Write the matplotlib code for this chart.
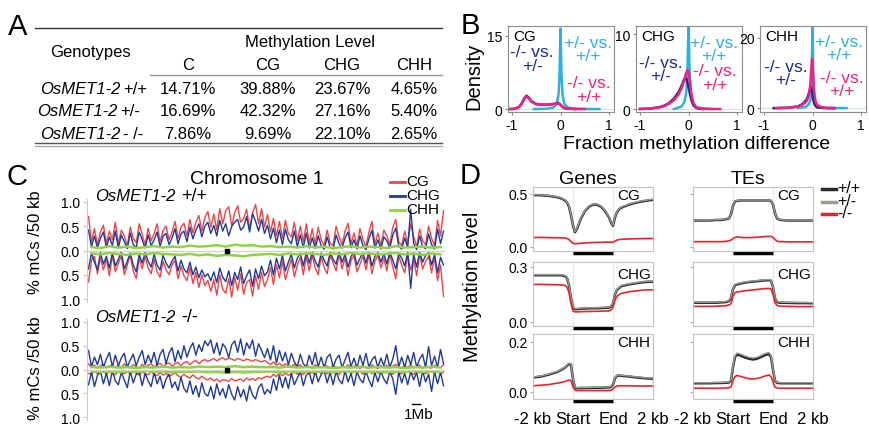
import numpy as np
import matplotlib
matplotlib.use("Agg")
import matplotlib.pyplot as plt

plt.rcParams['font.family'] = ['Liberation Sans', 'DejaVu Sans']
plt.rcParams['axes.unicode_minus'] = False

W, H = 869, 427

# ---------------- A: methylation level table ----------------
contexts = ["C", "CG", "CHG", "CHH"]
row_suffix = ["+/+", "+/-", "- /-"]
lvl_wt = [14.71, 39.88, 23.67, 4.65]
lvl_het = [16.69, 42.32, 27.16, 5.40]
lvl_mut = [7.86, 9.69, 22.10, 2.65]

# ---------------- B: density of fraction methylation difference ----------------
# magenta: -/- vs +/+, navy: -/- vs +/-, cyan: +/- vs +/+
cg_mw_x = [-1.05, -0.95, -0.85, -0.8, -0.75, -0.7, -0.65, -0.6, -0.5, -0.4, -0.3, -0.2, -0.1, -0.05, 0.0, 0.05, 0.1, 0.2, 0.3, 0.5]
cg_mw_y = [0, 0.05, 0.4, 1.0, 2.0, 2.6, 2.2, 1.5, 1.0, 0.9, 0.9, 0.95, 1.1, 1.3, 0.9, 0.4, 0.15, 0.05, 0.02, 0.02]
cg_mh_x = [-1.05, -0.95, -0.85, -0.8, -0.75, -0.7, -0.65, -0.6, -0.5, -0.4, -0.3, -0.2, -0.1, -0.05, 0.0, 0.05, 0.1, 0.2, 0.3]
cg_mh_y = [0, 0.05, 0.45, 1.1, 2.1, 2.75, 2.3, 1.6, 1.05, 0.9, 0.9, 0.95, 1.1, 1.25, 0.85, 0.35, 0.12, 0.04, 0.02]
cg_hw_x = [-0.55, -0.3, -0.15, -0.08, -0.04, -0.02, 0.0, 0.02, 0.04, 0.08, 0.15, 0.3, 0.55, 0.8]
cg_hw_y = [0, 0.05, 0.3, 1.0, 3.0, 7.0, 16.5, 7.0, 3.0, 1.0, 0.3, 0.05, 0, 0]

chg_mw_x = [-1.0, -0.8, -0.6, -0.5, -0.4, -0.3, -0.2, -0.15, -0.1, -0.05, -0.02, 0.0, 0.03, 0.06, 0.1, 0.15, 0.2, 0.3, 0.5, 0.65]
chg_mw_y = [0, 0.05, 0.2, 0.4, 0.7, 1.2, 2.0, 2.7, 3.6, 4.8, 5.2, 5.0, 3.5, 2.0, 0.8, 0.3, 0.1, 0.03, 0, 0]
chg_mh_x = [-1.0, -0.8, -0.6, -0.5, -0.4, -0.3, -0.2, -0.15, -0.1, -0.07, -0.04, 0.0, 0.03, 0.06, 0.1, 0.15, 0.2, 0.3]
chg_mh_y = [0, 0.05, 0.25, 0.45, 0.8, 1.4, 2.3, 3.0, 3.8, 4.2, 4.0, 3.0, 2.0, 1.2, 0.5, 0.2, 0.05, 0]
chg_hw_x = [-0.3, -0.15, -0.08, -0.04, -0.02, 0.0, 0.02, 0.04, 0.08, 0.15, 0.3, 0.5]
chg_hw_y = [0, 0.3, 1.0, 2.5, 5.5, 11.5, 5.5, 2.5, 1.0, 0.3, 0.05, 0]

chh_mw_x = [-0.75, -0.5, -0.3, -0.2, -0.12, -0.08, -0.05, -0.03, -0.01, 0.01, 0.03, 0.06, 0.1, 0.2, 0.3, 0.45]
chh_mw_y = [0, 0.1, 0.4, 1.0, 2.0, 3.5, 6.0, 10.0, 14.0, 10.0, 5.0, 2.0, 0.8, 0.2, 0.05, 0]
chh_mh_x = [-0.8, -0.5, -0.3, -0.2, -0.12, -0.08, -0.05, -0.03, -0.01, 0.01, 0.03, 0.06, 0.1, 0.2, 0.3, 0.45]
chh_mh_y = [0, 0.1, 0.5, 1.2, 2.5, 4.0, 5.5, 6.0, 5.0, 3.0, 1.5, 0.6, 0.2, 0.05, 0, 0]
chh_hw_x = [-0.3, -0.15, -0.08, -0.04, -0.02, 0.0, 0.02, 0.04, 0.08, 0.15, 0.3, 0.7]
chh_hw_y = [0, 0.3, 1.0, 2.5, 6.0, 24, 6.0, 2.5, 1.0, 0.3, 0.05, 0]

# ---------------- C: methylation along chromosome 1 (hundredths, 120 bins) ----------------
chrom_len = 43.0      # Mb
centromere = 16.8     # Mb
cg_wt_top = [70, 18, 45, 12, 38, 52, 15, 40, 22, 58, 14, 42, 30, 10, 48, 25, 16, 55, 33, 12,
             46, 20, 35, 55, 18, 42, 50, 22, 38, 60, 25, 48, 56, 30, 64, 36, 58, 72, 40, 68,
             80, 48, 75, 42, 86, 55, 82, 90, 50, 78, 92, 58, 66, 85, 45, 78, 95, 55, 86, 48,
             74, 38, 66, 30, 60, 25, 62, 35, 28, 58, 20, 50, 18, 55, 15, 45, 12, 48, 22, 10,
             42, 15, 10, 50, 28, 12, 40, 56, 14, 36, 10, 45, 22, 8, 38, 60, 12, 36, 10, 42,
             30, 12, 48, 64, 18, 10, 40, 15, 55, 28, 8, 44, 20, 12, 50, 25, 10, 62, 30, 82]
chg_wt_top = [42, 8, 30, 5, 25, 38, 6, 28, 10, 40, 5, 32, 18, 4, 36, 12, 6, 38, 22, 5,
              32, 10, 22, 38, 8, 30, 35, 12, 26, 45, 14, 34, 40, 18, 48, 24, 42, 55, 28, 50,
              58, 35, 52, 30, 62, 40, 55, 30, 50, 58, 64, 42, 48, 70, 38, 76, 60, 40, 64, 35,
              52, 24, 46, 16, 42, 12, 44, 22, 14, 40, 8, 32, 6, 36, 5, 26, 4, 30, 10, 3,
              28, 6, 3, 32, 14, 5, 26, 38, 6, 22, 3, 30, 10, 2, 24, 42, 5, 22, 3, 28,
              20, 5, 32, 46, 8, 3, 26, 6, 85, 14, 2, 30, 8, 4, 34, 12, 3, 44, 14, 40]
cg_wt_bot = [65, 20, 12, 48, 15, 40, 18, 52, 10, 44, 26, 12, 50, 30, 10, 42, 58, 16, 38, 12,
             36, 48, 18, 44, 55, 22, 40, 50, 30, 20, 58, 32, 52, 62, 35, 68, 45, 76, 50, 72,
             62, 84, 60, 92, 50, 80, 88, 58, 96, 55, 82, 48, 90, 66, 60, 94, 52, 80, 45, 74,
             60, 35, 70, 30, 56, 22, 60, 38, 18, 54, 30, 14, 50, 12, 42, 10, 36, 50, 12, 35,
             48, 10, 25, 42, 8, 38, 15, 52, 20, 10, 44, 28, 12, 40, 8, 48, 22, 10, 36, 15,
             42, 8, 34, 58, 12, 30, 46, 10, 40, 18, 52, 8, 38, 22, 12, 46, 15, 62, 30, 95]
chg_wt_bot = [38, 5, 24, 40, 4, 28, 12, 36, 5, 32, 18, 3, 38, 22, 5, 30, 44, 8, 26, 4,
              22, 34, 8, 30, 40, 10, 26, 36, 22, 12, 42, 20, 38, 46, 24, 50, 34, 56, 40, 54,
              48, 62, 44, 66, 36, 55, 64, 42, 72, 45, 60, 34, 68, 52, 40, 74, 38, 58, 32, 52,
              44, 20, 50, 16, 38, 10, 42, 24, 8, 36, 16, 5, 32, 4, 26, 3, 22, 34, 5, 20,
              32, 4, 18, 28, 3, 24, 8, 34, 12, 4, 30, 16, 5, 26, 2, 32, 12, 4, 24, 6,
              28, 3, 20, 38, 6, 16, 32, 4, 78, 8, 34, 3, 24, 10, 4, 30, 8, 46, 14, 30]
cg_mu_top = [12, 4, 9, 3, 8, 11, 3, 7, 10, 4, 9, 3, 12, 5, 4, 10, 6, 3, 11, 5,
             9, 12, 5, 10, 13, 6, 11, 14, 7, 12, 15, 8, 14, 17, 10, 16, 19, 12, 18, 21,
             17, 20, 23, 18, 22, 25, 20, 24, 22, 19, 23, 21, 18, 22, 20, 17, 21, 18, 16, 19,
             15, 10, 16, 9, 13, 7, 12, 8, 6, 11, 5, 10, 4, 9, 6, 3, 10, 5, 4, 9,
             7, 3, 9, 4, 3, 8, 4, 10, 3, 7, 9, 2, 8, 4, 3, 10, 5, 2, 8, 4,
             9, 3, 7, 11, 4, 2, 8, 4, 10, 3, 7, 9, 2, 8, 4, 3, 9, 5, 4, 10]
chg_mu_top = [40, 6, 26, 10, 32, 4, 22, 36, 6, 30, 8, 24, 34, 5, 20, 32, 8, 26, 40, 10,
              30, 14, 36, 8, 32, 42, 12, 34, 46, 16, 40, 22, 50, 26, 44, 56, 30, 52, 38, 60,
              50, 62, 34, 56, 30, 54, 45, 25, 52, 60, 36, 64, 30, 56, 44, 62, 28, 54, 40, 25,
              44, 20, 50, 14, 40, 18, 36, 10, 34, 16, 6, 32, 12, 5, 30, 10, 36, 6, 26, 4,
              26, 32, 5, 22, 30, 4, 20, 36, 6, 24, 3, 30, 8, 34, 5, 20, 28, 4, 24, 8,
              32, 5, 22, 50, 6, 26, 4, 30, 10, 36, 5, 22, 32, 4, 48, 8, 28, 5, 42, 12]
cg_mu_bot = [8, 10, 3, 9, 7, 3, 10, 4, 8, 11, 3, 7, 9, 4, 10, 3, 8, 12, 4, 9,
             11, 5, 10, 13, 6, 12, 8, 14, 11, 7, 13, 16, 10, 15, 18, 11, 17, 20, 14, 19,
             22, 18, 24, 20, 26, 21, 23, 25, 19, 24, 22, 20, 25, 18, 22, 19, 23, 17, 20, 16,
             14, 17, 10, 15, 8, 13, 7, 12, 9, 5, 10, 4, 11, 3, 9, 6, 10, 3, 8, 5,
             9, 4, 3, 8, 10, 3, 7, 2, 9, 4, 8, 3, 10, 5, 3, 9, 2, 8, 4, 7,
             3, 8, 10, 3, 7, 9, 4, 2, 8, 10, 4, 7, 3, 9, 5, 3, 8, 3, 10, 5]
chg_mu_bot = [32, 5, 36, 12, 4, 30, 8, 34, 3, 24, 32, 6, 22, 38, 4, 28, 10, 5, 34, 8,
              24, 36, 6, 30, 14, 40, 20, 10, 38, 26, 44, 16, 40, 48, 24, 52, 34, 58, 28, 50,
              56, 36, 62, 30, 54, 40, 60, 32, 52, 64, 36, 58, 42, 66, 34, 54, 62, 38, 30, 52,
              42, 50, 20, 44, 12, 38, 16, 40, 8, 32, 18, 5, 34, 12, 6, 30, 4, 26, 10, 3,
              28, 6, 32, 4, 22, 30, 3, 26, 8, 34, 5, 20, 28, 3, 22, 36, 6, 26, 4, 20,
              30, 4, 20, 52, 5, 28, 8, 32, 4, 22, 6, 36, 3, 26, 10, 46, 5, 30, 6, 34]
chh_wt_top = [7, 5, 9, 6, 8, 5, 7, 9, 6, 8, 7, 10, 8, 9, 11, 8, 12, 10, 11, 8,
              9, 7, 8, 6, 9, 6, 8, 5, 7, 9, 6, 8, 7, 5, 9, 6, 7, 8, 6, 7]
chh_wt_bot = [6, 8, 5, 7, 9, 6, 8, 5, 7, 8, 9, 7, 10, 8, 11, 9, 10, 12, 9, 8,
              7, 9, 6, 8, 6, 7, 9, 6, 8, 5, 7, 6, 8, 7, 5, 8, 6, 9, 6, 8]
chh_mu_top = [5, 4, 6, 4, 5, 3, 5, 4, 6, 4, 5, 4, 6, 5, 6, 5, 7, 5, 6, 5,
              5, 4, 6, 4, 5, 4, 5, 3, 5, 4, 6, 4, 5, 4, 5, 3, 5, 4, 6, 4]
chh_mu_bot = [4, 5, 4, 6, 4, 5, 3, 5, 4, 6, 5, 5, 4, 6, 5, 7, 5, 6, 5, 5,
              4, 6, 4, 5, 4, 5, 4, 6, 3, 5, 4, 5, 4, 6, 4, 5, 3, 5, 4, 5]
scale_bar_start = 39.0  # Mb

# ---------------- D: metaplots (x: 0=-2kb, 1=start, 2=end, 3=+2kb) ----------------
pos = [0, .2, .4, .6, .7, .8, .85, .9, .95, 1.0, 1.05, 1.1, 1.2, 1.3, 1.4, 1.5, 1.6, 1.7, 1.8, 1.9,
       1.95, 2.0, 2.05, 2.1, 2.15, 2.2, 2.4, 2.6, 2.8, 3.0]
body_start, body_end = 1, 2
gene_cg_wt = [.49, .488, .482, .47, .46, .44, .42, .38, .30, .20, .14, .17, .27, .34, .38, .40, .40, .38, .34, .28,
              .23, .20, .28, .33, .355, .37, .40, .42, .435, .445]
gene_cg_het = [.495, .49, .485, .474, .465, .445, .425, .385, .305, .205, .145, .175, .275, .345, .385, .405, .405, .385, .345, .285,
               .235, .205, .285, .335, .36, .375, .405, .425, .44, .45]
gene_cg_mu = [.09, .09, .088, .087, .086, .085, .08, .07, .05, .035, .03, .032, .035, .038, .04, .042, .043, .044, .045, .046,
              .045, .044, .055, .065, .07, .072, .076, .078, .08, .08]
te_cg_wt = [.25, .25, .25, .255, .255, .26, .265, .27, .31, .39, .43, .435, .44, .44, .44, .44, .44, .44, .44, .44,
            .435, .40, .32, .27, .26, .255, .25, .25, .25, .25]
te_cg_het = [.253, .253, .253, .258, .258, .263, .268, .273, .313, .393, .433, .438, .443, .443, .443, .443, .443, .443, .443, .443,
             .438, .403, .323, .273, .263, .258, .253, .253, .253, .253]
te_cg_mu = [.05, .05, .05, .05, .05, .052, .055, .058, .065, .08, .09, .095, .09, .088, .088, .09, .092, .095, .098, .10,
            .10, .09, .07, .055, .05, .05, .048, .048, .048, .048]
gene_chg_wt = [.255, .255, .255, .255, .255, .25, .24, .20, .13, .08, .07, .07, .072, .073, .074, .075, .075, .076, .077, .078,
               .085, .10, .15, .175, .185, .195, .205, .212, .218, .22]
gene_chg_het = [.258, .258, .258, .258, .258, .253, .243, .203, .133, .083, .073, .073, .075, .076, .077, .078, .078, .079, .08, .081,
                .088, .103, .153, .178, .188, .198, .208, .215, .221, .223]
gene_chg_mu = [.205, .205, .204, .203, .202, .20, .19, .16, .10, .06, .055, .055, .056, .057, .057, .058, .058, .059, .06, .06,
               .065, .08, .12, .14, .148, .155, .165, .17, .175, .175]
te_chg_wt = [.105, .105, .105, .105, .107, .108, .11, .115, .13, .18, .20, .205, .21, .215, .218, .22, .222, .225, .227, .228,
             .225, .19, .13, .11, .105, .105, .104, .103, .103, .102]
te_chg_het = [.108, .108, .108, .108, .11, .111, .113, .118, .133, .183, .203, .208, .213, .218, .221, .223, .225, .228, .23, .231,
              .228, .193, .133, .113, .108, .108, .107, .106, .106, .105]
te_chg_mu = [.085, .085, .085, .086, .087, .088, .09, .093, .10, .14, .16, .163, .167, .17, .172, .175, .177, .18, .182, .183,
             .18, .15, .105, .09, .087, .086, .085, .084, .084, .084]
gene_chh_wt = [.058, .062, .07, .08, .088, .098, .105, .112, .11, .05, .018, .015, .016, .016, .016, .017, .017, .017, .018, .018,
               .02, .03, .055, .065, .066, .065, .062, .058, .055, .053]
gene_chh_het = [.06, .064, .072, .082, .09, .10, .107, .115, .113, .052, .02, .017, .018, .018, .018, .019, .019, .019, .02, .02,
                .022, .032, .057, .067, .068, .067, .064, .06, .057, .055]
gene_chh_mu = [.025, .027, .03, .035, .038, .042, .045, .048, .045, .02, .007, .006, .006, .006, .006, .006, .006, .006, .006, .006,
               .007, .012, .02, .024, .025, .025, .025, .024, .024, .024]
te_chh_wt = [.035, .035, .035, .036, .036, .037, .037, .038, .045, .10, .14, .15, .145, .138, .133, .13, .133, .14, .148, .152,
             .14, .09, .045, .037, .036, .035, .035, .035, .035, .035]
te_chh_het = [.037, .037, .037, .038, .038, .039, .039, .04, .047, .104, .145, .156, .151, .144, .139, .136, .139, .146, .154, .158,
              .146, .094, .047, .039, .038, .037, .037, .037, .037, .037]
te_chh_mu = [.015, .015, .015, .015, .015, .016, .016, .017, .02, .045, .062, .066, .062, .057, .053, .052, .054, .058, .064, .068,
             .062, .04, .02, .016, .015, .015, .015, .015, .015, .015]
xtick_labels = ["-2 kb", "Start", "End", "2 kb"]

# colours
CYAN, NAVY, MAGENTA = "#2eaee2", "#1c2a8c", "#f2207f"
C_RED, C_BLUE, C_GREEN = "#e8474a", "#1f3a9a", "#8fd43c"
D_BLACK, D_GRAY, D_RED = "#2b2b2b", "#9a9e90", "#e5252b"

fig = plt.figure(figsize=(W / 100, H / 100), dpi=100)


def rect(l, t, r, b):
    return [l / W, 1 - b / H, (r - l) / W, (b - t) / H]


# overlay axes in pixel coordinates for free text and rules
ov = fig.add_axes([0, 0, 1, 1], zorder=10)
ov.set_xlim(0, W)
ov.set_ylim(H, 0)
ov.axis('off')

# ---- A
ov.text(8, 27, "A", fontsize=21, va='center')
ov.plot([35, 442], [29, 29], color='#333333', lw=1)
ov.text(310, 43, "Methylation Level", fontsize=12, ha='center', va='center')
ov.text(90, 53, "Genotypes", fontsize=12, ha='center', va='center')
col_x = [188, 268, 342, 414]
for cx, c in zip(col_x, contexts):
    ov.text(cx, 66, c, fontsize=12, ha='center', va='center')
ov.plot([150, 442], [76, 76], color='#999999', lw=1)
row_y = [90, 112, 135]
row_lx = [40, 37, 40]
for ry, lx, suf, vals in zip(row_y, row_lx, row_suffix, [lvl_wt, lvl_het, lvl_mut]):
    t = ov.text(lx, ry, "OsMET1-2", style='italic', fontsize=12, va='center')
    ov.annotate(suf, xy=(1, 0.5), xycoords=t, xytext=(2, 0), textcoords='offset points',
                va='center', fontsize=12)
    for cx, v in zip(col_x, vals):
        ov.text(cx, ry, f"{v:.2f}%", ha='center', va='center', fontsize=12)
ov.plot([35, 442], [144, 144], color='#555555', lw=1)
ov.plot([35, 442], [146.5, 146.5], color='#aaaaaa', lw=1)

# ---- B
ov.text(461, 26, "B", fontsize=21, va='center')
ov.text(474, 76, "Density", fontsize=14.5, rotation=90, ha='center', va='center')
ov.text(697, 145, "Fraction methylation difference", fontsize=14, ha='center', va='center')
b_panels = [
    ("CG", rect(508, 27, 614, 113), (-0.6, 17), 15,
     (cg_hw_x, cg_hw_y), (cg_mw_x, cg_mw_y), (cg_mh_x, cg_mh_y),
     [(0.56, 12.35), (-0.58, 10.35), (0.58, 4.0)]),
    ("CHG", rect(636, 27, 742, 113), (-0.4, 11.1), 10,
     (chg_hw_x, chg_hw_y), (chg_mw_x, chg_mw_y), (chg_mh_x, chg_mh_y),
     [(0.53, 8.0), (-0.57, 5.3), (0.55, 4.2)]),
    ("CHH", rect(760, 27, 866, 113), (-1.1, 23.4), 20,
     (chh_hw_x, chh_hw_y), (chh_mw_x, chh_mw_y), (chh_mh_x, chh_mh_y),
     [(0.55, 17.2), (-0.55, 10.0), (0.6, 6.85)]),
]
for name, r, ylim, ytop, hw, mw, mh, lab in b_panels:
    ax = fig.add_axes(r)
    ax.axhline(0, color='#dddddd', lw=0.8, zorder=0)
    ax.plot(hw[0], hw[1], color=CYAN, lw=1.8)
    ax.plot(mh[0], mh[1], color=NAVY, lw=1.8)
    ax.plot(mw[0], mw[1], color=MAGENTA, lw=1.8)
    ax.set_xlim(-1.08, 1.1)
    ax.set_ylim(*ylim)
    ax.set_xticks([-1, 0, 1])
    ax.set_yticks([0, ytop])
    ax.tick_params(labelsize=10, length=2.5, color='#888888', pad=1.5)
    for s in ax.spines.values():
        s.set_color('#8c8c8c')
    ax.text(0.05, 0.88, name, transform=ax.transAxes, fontsize=11, va='center')
    kw = dict(ha='center', va='center', fontsize=12.5, linespacing=0.85)
    ax.text(*lab[0], "+/- vs.\n+/+", color=CYAN, **kw)
    ax.text(*lab[1], "-/- vs.\n+/-", color=NAVY, **kw)
    ax.text(*lab[2], "-/- vs.\n+/+", color=MAGENTA, **kw)

# ---- C
ov.text(7, 177, "C", fontsize=21, va='center')
ov.text(257, 180, "Chromosome 1", fontsize=14, ha='center', va='center')
for ly, lab, col in zip([182, 196, 210], ["CG", "CHG", "CHH"], [C_RED, C_BLUE, C_GREEN]):
    ov.plot([390, 405], [ly + 1, ly + 1], color=col, lw=2)
    ov.text(406, ly, lab, fontsize=11, va='center')
nb = len(cg_wt_top)
xb = (np.arange(nb) + 0.5) * chrom_len / nb
nh = len(chh_wt_top)
xh = (np.arange(nh) + 0.5) * chrom_len / nh
c_panels = [
    (rect(87, 200, 445, 303), "+/+", cg_wt_top, chg_wt_top, cg_wt_bot, chg_wt_bot, chh_wt_top, chh_wt_bot, 242),
    (rect(87, 320, 445, 421), "-/-", cg_mu_top, chg_mu_top, cg_mu_bot, chg_mu_bot, chh_mu_top, chh_mu_bot, 368),
]
for i, (r, suf, cgt, chgt, cgb, chgb, chht, chhb, ylab_y) in enumerate(c_panels):
    ax = fig.add_axes(r)
    ax.plot(xb, np.array(cgt) / 100, color=C_RED, lw=1.0)
    ax.plot(xb, -np.array(cgb) / 100, color=C_RED, lw=1.0)
    ax.plot(xb, np.array(chgt) / 100, color=C_BLUE, lw=1.0)
    ax.plot(xb, -np.array(chgb) / 100, color=C_BLUE, lw=1.0)
    ax.plot(xh, np.array(chht) / 100, color=C_GREEN, lw=1.8)
    ax.plot(xh, -np.array(chhb) / 100, color=C_GREEN, lw=1.8)
    ax.axhline(0, color='#d0d0d0', lw=0.9)
    ax.plot([centromere], [0], 's', color='black', ms=3.5)
    ax.set_xlim(0, chrom_len)
    ax.set_ylim(-1.06, 1.06)
    ax.set_yticks([-1, -0.5, 0, 0.5, 1])
    ax.set_yticklabels(["1.0", "0.5", "0.0", "0.5", "1.0"])
    ax.set_xticks([])
    for s in ['top', 'right', 'bottom']:
        ax.spines[s].set_visible(False)
    ax.spines['left'].set_color('#cccccc')
    ax.tick_params(axis='y', labelsize=10, length=3, color='#cccccc', pad=2)
    ax.patch.set_alpha(0)
    ov.text(36, ylab_y, "% mCs /50 kb", fontsize=12, rotation=90, ha='center', va='center')
    ty = 197 if i == 0 else 318
    t = ov.text(95, ty, "OsMET1-2", style='italic', fontsize=12, va='center')
    ov.annotate(suf, xy=(1, 0.5), xycoords=t, xytext=(4, 0), textcoords='offset points',
                va='center', fontsize=13)
    if i == 1:
        ax.plot([scale_bar_start, scale_bar_start + 1], [-0.72, -0.72], color='black', lw=1)
        ax.text(scale_bar_start + 0.8, -0.93, "1Mb", fontsize=11, ha='center', va='center')

# ---- D
ov.text(460, 176, "D", fontsize=21, va='center')
ov.text(588, 180, "Genes", fontsize=14, ha='center', va='center')
ov.text(748, 180, "TEs", fontsize=14, ha='center', va='center')
ov.text(473, 287, "Methylation level", fontsize=14.5, rotation=90, ha='center', va='center')
for ly, lab, col in zip([189, 201.5, 214], ["+/+", "+/-", "-/-"], [D_BLACK, D_GRAY, D_RED]):
    ov.plot([822, 836], [ly + 1, ly + 1], color=col, lw=2.5)
    ov.text(837, ly, lab, fontsize=11.5, va='center')

rows = [((188, 252), (-0.038, 0.566), 0.5, "CG", 0.87,
         [gene_cg_wt, gene_cg_het, gene_cg_mu], [te_cg_wt, te_cg_het, te_cg_mu]),
        ((263, 327), (-0.022, 0.327), 0.3, "CHG", 0.81,
         [gene_chg_wt, gene_chg_het, gene_chg_mu], [te_chg_wt, te_chg_het, te_chg_mu]),
        ((335, 400), (-0.028, 0.232), 0.2, "CHH", 0.87,
         [gene_chh_wt, gene_chh_het, gene_chh_mu], [te_chh_wt, te_chh_het, te_chh_mu])]
cols = [(533, 653), (693, 813)]
for ri, ((t, b), ylim, ytop, ctx, ty, gene_s, te_s) in enumerate(rows):
    for ci, ((l, rr), series) in enumerate(zip(cols, [gene_s, te_s])):
        ax = fig.add_axes(rect(l, t, rr, b))
        for xv in (body_start, body_end):
            ax.axvline(xv, color='#e8e8e8', lw=0.8, zorder=0)
        wt, het, mu = series
        ax.plot(pos, wt, color=D_BLACK, lw=1.8)
        ax.plot(pos, het, color=D_GRAY, lw=1.0)
        ax.plot(pos, mu, color=D_RED, lw=1.2)
        ax.plot([body_start, body_end], [-0.035, -0.035], color='black', lw=2.5,
                transform=ax.get_xaxis_transform(), clip_on=False, solid_capstyle='butt')
        ax.set_xlim(0, 3)
        ax.set_ylim(*ylim)
        ax.set_yticks([0, ytop])
        ax.set_yticklabels([f"{0:.1f}", f"{ytop:.1f}"] if ci == 0 else [])
        ax.tick_params(axis='y', labelsize=10, length=2, color='#aaaaaa', pad=2)
        if ri == 2:
            ax.set_xticks([0, 1, 2, 3])
            ax.set_xticklabels(xtick_labels, fontsize=12)
            ax.tick_params(axis='x', length=0, pad=9)
        else:
            ax.set_xticks([])
        for s in ax.spines.values():
            s.set_color('#c4c4c4')
        ax.text(0.7, ty, ctx, transform=ax.transAxes, fontsize=11, va='center')

fig.savefig("out.png", dpi=100)
